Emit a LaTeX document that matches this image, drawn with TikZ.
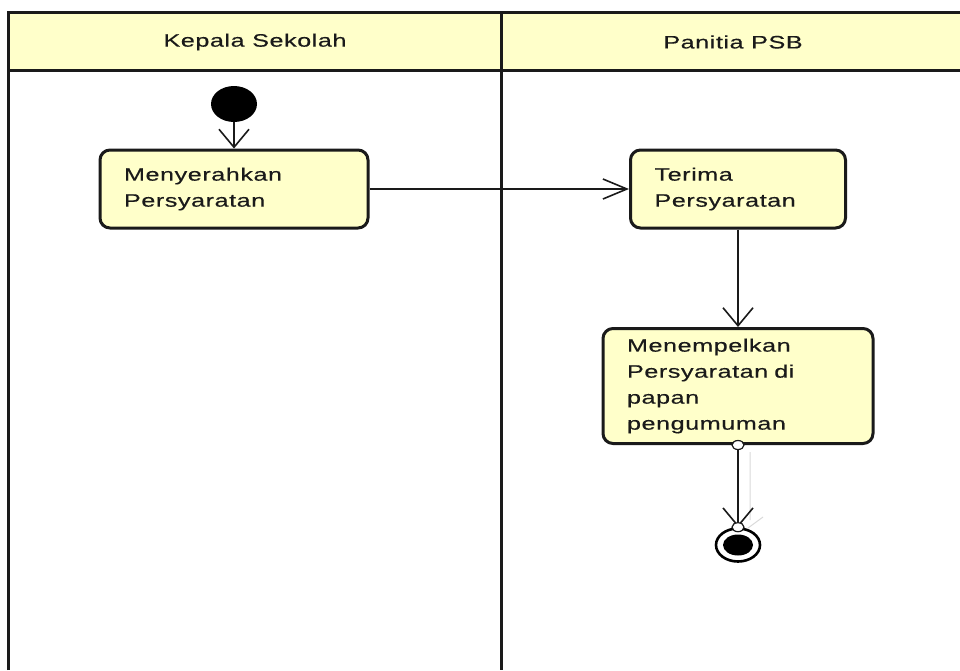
\documentclass[tikz,border=0pt]{standalone}
\usepackage{fontspec}
\newfontfamily\umlfont[FakeStretch=1.4,LetterSpace=3,FakeBold=0.4]{Liberation Sans}
\usetikzlibrary{shapes.geometric,arrows.meta,positioning}
\definecolor{umlyellow}{HTML}{FFFFCA}
\definecolor{umlline}{HTML}{1A1A1A}
\tikzset{
    action/.style={draw=umlline,line width=3pt,fill=umlyellow,rounded corners=10pt,
        minimum height=78pt,inner xsep=24pt,inner ysep=0pt,align=left,
        font=\umlfont\fontsize{18}{26}\selectfont,text=umlline},
    lanetitle/.style={font=\umlfont\fontsize{18}{22}\selectfont,text=umlline},
    startnode/.style={ellipse,fill=black,minimum width=46pt,minimum height=36pt,inner sep=0pt},
    endnode/.style={ellipse,draw=black,line width=2.6pt,fill=white,minimum width=44pt,minimum height=33pt,inner sep=0pt},
    endcore/.style={ellipse,fill=black,minimum width=30pt,minimum height=21pt,inner sep=0pt},
    portdot/.style={ellipse,draw=umlline,line width=1.2pt,fill=white,minimum width=12pt,minimum height=9pt,inner sep=0pt},
    flowv/.style={draw=umlline,line width=1.6pt,-{Straight Barb[length=18pt,width=30pt]}},
    flowh/.style={draw=umlline,line width=1.6pt,-{Straight Barb[length=24pt,width=20pt]}}
}
\begin{document}
\begin{tikzpicture}[x=1pt,y=-1pt]
    \useasboundingbox (0,0) rectangle (960,670);

    % swimlanes
    \fill [umlyellow] (8,12) rectangle (960,70);
    \begin{scope}[draw=umlline,line width=3pt]
    \draw (8,670) -- (8,12) -- (960,12);
    \draw (8,70) -- (960,70);
    \draw (501,12) -- (501,670);
    \end{scope}

    \node [lanetitle] (kepala) at (255,42) {Kepala Sekolah};
    \node [lanetitle] (panitia) at (733,42) {Panitia PSB};

    \node [startnode] (mulai) at (234,104) {};
    \node [action,text width=220pt] (serahkan) at (234,189) {Menyerahkan\\Persyaratan};
    \node [action,text width=167pt] (terima) at (738,189) {Terima\\Persyaratan};
    \node [action,text width=222pt,minimum height=115pt] (tempel) at (738,386)
        {Menempelkan\\Persyaratan di\\papan\\pengumuman};
    \node [endnode] (selesai) at (738,545) {};
    \node [endcore] (selesaiinti) at (selesai) {};

    \draw [flowv] (mulai) -- (serahkan);
    \draw [flowh] (serahkan) -- (terima);
    \draw [flowv] (terima) -- (tempel);
    \draw [black!15,line width=1pt] (750,452) -- (750,520) (748,528) -- (763,517);
    \draw [flowv] (tempel) -- (selesai);
    \node [portdot] (keluar) at (tempel.south) {};
    \node [portdot] (masuk) at (selesai.north) {};
\end{tikzpicture}
\end{document}
